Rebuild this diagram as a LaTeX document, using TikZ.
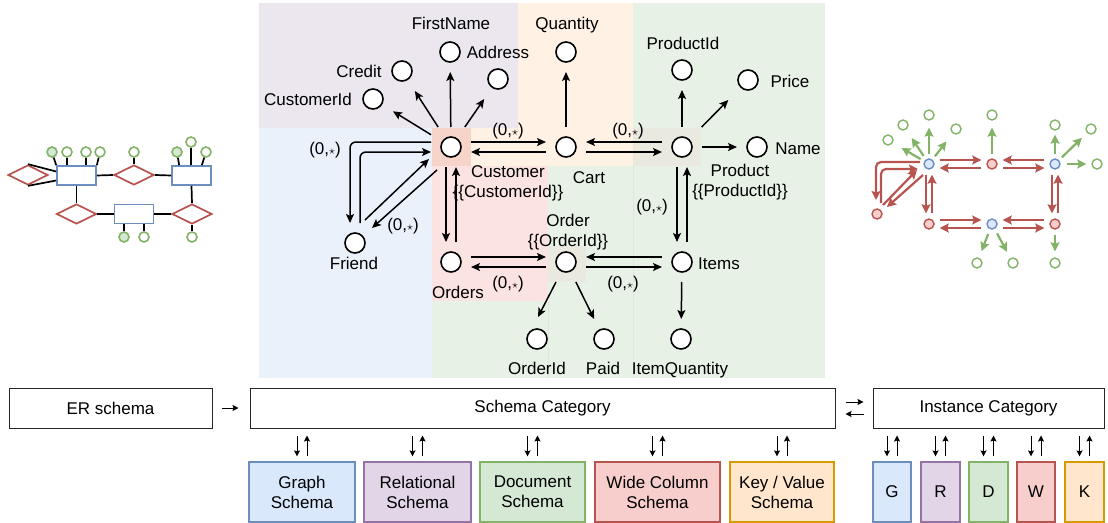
\documentclass[tikz,border=0pt]{standalone}
\usepackage{fontspec}
\setmainfont{Liberation Sans}
\usetikzlibrary{arrows.meta,calc,shapes.geometric}

% draw.io palette
\definecolor{bluefill}{HTML}{DAE8FC}
\definecolor{bluestroke}{HTML}{6C8EBF}
\definecolor{purplefill}{HTML}{E1D5E7}
\definecolor{purplestroke}{HTML}{9673A6}
\definecolor{greenfill}{HTML}{D5E8D4}
\definecolor{greenstroke}{HTML}{82B366}
\definecolor{redfill}{HTML}{F8CECC}
\definecolor{redstroke}{HTML}{B85450}
\definecolor{orangefill}{HTML}{FFE6CC}
\definecolor{orangestroke}{HTML}{D79B00}
% pale model areas behind the schema category
\definecolor{bgblue}{HTML}{EBF1FB}
\definecolor{bgpurple}{HTML}{ECE6EF}
\definecolor{bgorange}{HTML}{FFF1E3}
\definecolor{bggreen}{HTML}{E7F1E6}
\definecolor{bgred}{HTML}{FBE3E2}
\definecolor{bgcust}{HTML}{F6D4CA}
\definecolor{bgshared}{HTML}{EAE9DF}
\definecolor{bgedge}{HTML}{DCE8DA}

\newcommand{\card}{(0,$\scriptstyle\star$)}

\begin{document}
\begin{tikzpicture}[x=1pt,y=-1pt,
  font=\fontsize{17}{20}\selectfont,
  obj/.style={rectangle,minimum size=40pt,inner sep=0pt,outer sep=0pt},
  ring/.style={draw=black,fill=white,line width=1.6pt},
  lbl/.style={inner sep=0pt,outer sep=0pt,text height=12.2pt,text depth=0pt},
  lbltwo/.style={inner sep=0pt,outer sep=0pt,align=center,anchor=north},
  tipb/.style={-{Stealth[length=9pt,width=8pt,inset=2pt]}},
  ed/.style={draw=black,line width=1.5pt,tipb},
  % ER sketch
  erent/.style={rectangle,draw=bluestroke,fill=white,line width=1.7pt,minimum width=39pt,minimum height=19pt,inner sep=0pt},
  errel/.style={diamond,aspect=2,draw=redstroke,fill=white,line width=1.7pt,minimum width=40pt,minimum height=20pt,inner sep=0pt},
  erattr/.style={circle,draw=greenstroke,fill=white,line width=1.6pt,minimum size=10pt,inner sep=0pt},
  erkey/.style={erattr,fill=greenfill},
  erln/.style={draw=black,line width=1.7pt},
  % instance sketch
  inode/.style={circle,line width=1.4pt,minimum size=10pt,inner sep=0pt},
  iblue/.style={inode,draw=bluestroke,fill=bluefill},
  ired/.style={inode,draw=redstroke,fill=redfill},
  iattr/.style={inode,draw=greenstroke,fill=white},
  garr/.style={draw=greenstroke,line width=2.2pt,-{Stealth[length=9pt,width=9pt,inset=1.5pt]}},
  rarr/.style={draw=redstroke,line width=2.2pt,-{Stealth[length=9pt,width=9pt,inset=1.5pt]},shorten <=5pt,shorten >=5pt},
  % pipeline boxes
  topbox/.style={rectangle,draw=black!85,fill=white,line width=1pt,minimum height=40pt,inner sep=0pt},
  mbox/.style={rectangle,line width=1.2pt,minimum height=60pt,inner sep=0pt,align=center},
  sarr/.style={draw=black,line width=1pt,-{Stealth[length=6pt,width=6pt,inset=1pt]}}
]
\useasboundingbox (0,0) rectangle (1108,522);
\clip (0,0) rectangle (1108,522);

% ---------- model areas ----------
\fill[bgpurple] (259,3) rectangle (518,128);
\fill[bgorange] (518,3) rectangle (633,128);
\fill[bgorange] (471,128) rectangle (633,166);
\fill[bgcust] (432,128) rectangle (471,166);
\fill[bgblue] (259,128) rectangle (432,378);
\fill[bgred] (432,166) rectangle (548,301);
\fill[bggreen] (432,301) rectangle (548,378);
\fill[bggreen] (548,166) rectangle (633,378);
\fill[bggreen] (633,3) rectangle (825,378);
\fill[bgshared] (633,128) rectangle (701,166);
\fill[bgshared] (548,246) rectangle (586,282);
\draw[bgedge,line width=0.6pt] (633,166) -- (633,378);
\draw[bgedge,line width=0.6pt] (548,301) -- (548,378);

% ---------- schema category objects ----------
\node[obj] (cust) at (451,147) {};
\node[obj] (cart) at (566,147) {};
\node[obj] (prod) at (682,147) {};
\node[obj] (ords) at (451,262) {};
\node[obj] (ord) at (566,262) {};
\node[obj] (items) at (682,262) {};
\node[obj] (friend) at (355,243) {};
\node[obj] (custid) at (373,99) {};
\node[obj] (credit) at (402,71) {};
\node[obj] (fname) at (450,52) {};
\node[obj] (addr) at (498,79) {};
\node[obj] (qty) at (566,52) {};
\node[obj] (prodid) at (682,70) {};
\node[obj] (price) at (748,80) {};
\node[obj] (name) at (757,147) {};
\node[obj] (orderid) at (537,339) {};
\node[obj] (paid) at (604,339) {};
\node[obj] (itemq) at (681,339) {};
\foreach \n in {cust,cart,prod,ords,ord,items,friend,custid,credit,fname,addr,qty,prodid,price,name,orderid,paid,itemq}
  \draw[ring] (\n) circle[radius=10pt];

% labels
\node[lbl] (t-fname) at (451,23) {FirstName};
\node[lbl] (t-addr) at (498,52) {Address};
\node[lbl] (t-credit) at (359,71) {Credit};
\node[lbl] (t-custid) at (308,99) {CustomerId};
\node[lbl] (t-qty) at (567,23) {Quantity};
\node[lbl] (t-prodid) at (683,43) {ProductId};
\node[lbl] (t-price) at (790,81) {Price};
\node[lbl] (t-name) at (798,148) {Name};
\node[lbltwo] (t-cust) at (508,166) {Customer\\\{\{CustomerId\}\}};
\node[lbl] (t-cart) at (589,177) {Cart};
\node[lbltwo] (t-prod) at (740,164) {Product\\\{\{ProductId\}\}};
\node[lbltwo] (t-ord) at (568,214) {Order\\\{\{OrderId\}\}};
\node[lbl] (t-items) at (719,263) {Items};
\node[lbl] (t-ords) at (458,292) {Orders};
\node[lbl] (t-friend) at (354,263) {Friend};
\node[lbl] (t-orderid) at (537,368) {OrderId};
\node[lbl] (t-paid) at (603,368) {Paid};
\node[lbl] (t-itemq) at (680,368) {ItemQuantity};
\node[lbl] (c1) at (508,129) {\card};
\node[lbl] (c2) at (628,129) {\card};
\node[lbl] (c3) at (325,148) {\card};
\node[lbl] (c4) at (403,224) {\card};
\node[lbl] (c5) at (508,282) {\card};
\node[lbl] (c6) at (623,282) {\card};
\node[lbl] (c7) at (652,205) {\card};

% attribute morphisms
\draw[ed] (cust) -- (custid);
\draw[ed] (cust) -- (credit);
\draw[ed] (cust) -- (fname);
\draw[ed] (cust) -- (addr);
\draw[ed] (cart) -- (qty);
\draw[ed] (prod) -- (prodid);
\draw[ed] (prod) -- (price);
\draw[ed] (prod) -- (name);
\draw[ed] ($(ord)+(-10,20)$) -- ($(orderid)+(1,-22)$);
\draw[ed] (ord) -- (paid);
\draw[ed] (items) -- (itemq);

% relationship morphisms and their duals
\draw[ed] ([yshift=5pt]cust.east) -- ([yshift=5pt]cart.west);
\draw[ed] ([yshift=-5pt]cart.west) -- ([yshift=-5pt]cust.east);
\draw[ed] ([yshift=5pt]prod.west) -- ([yshift=5pt]cart.east);
\draw[ed] ([yshift=-5pt]cart.east) -- ([yshift=-5pt]prod.west);
\draw[ed] ([xshift=-5pt]cust.south) -- ([xshift=-5pt]ords.north);
\draw[ed] ([xshift=5pt]ords.north) -- ([xshift=5pt]cust.south);
\draw[ed] ([xshift=-5pt]prod.south) -- ([xshift=-5pt]items.north);
\draw[ed] ([xshift=5pt]items.north) -- ([xshift=5pt]prod.south);
\draw[ed] ([yshift=5pt]ords.east) -- ([yshift=5pt]ord.west);
\draw[ed] ([yshift=-5pt]ord.west) -- ([yshift=-5pt]ords.east);
\draw[ed] ([yshift=5pt]items.west) -- ([yshift=5pt]ord.east);
\draw[ed] ([yshift=-5pt]ord.east) -- ([yshift=-5pt]items.west);
\draw[ed,rounded corners=6pt] ([yshift=5pt]cust.west) -| ([xshift=-5pt]friend.north);
\draw[ed,rounded corners=6pt] ([xshift=5pt]friend.north) |- ([yshift=-5pt]cust.west);
\draw[ed] ($(friend)+(10,-23)$) -- ($(cust)+(-22,12)$);
\draw[ed] ($(cust)+(-14,23)$) -- ($(friend)+(17,-15)$);

% ---------- ER schema sketch ----------
\node[errel] (erd1) at (28,175) {};
\node[erent] (ere1) at (76.5,175.5) {};
\node[errel] (erd2) at (134,175) {};
\node[erent] (ere2) at (191.5,175.5) {};
\node[errel] (erd3) at (76.5,214) {};
\node[erent] (ere3) at (134,214) {};
\node[errel] (erd4) at (192,214) {};
\node[erkey] (era1) at (52,152) {};
\node[erattr] (era2) at (67,152) {};
\node[erattr] (era3) at (86,152) {};
\node[erattr] (era4) at (100,152) {};
\node[erattr] (era5) at (134,152) {};
\node[erkey] (era6) at (177,152) {};
\node[erattr] (era7) at (191,142) {};
\node[erattr] (era8) at (206,152) {};
\node[erkey] (era9) at (124,237) {};
\node[erattr] (era10) at (144,237) {};
\node[erattr] (era11) at (192,237) {};
\draw[erln] (erd1.north) -- ($(ere1.west)+(0,-4)$);
\draw[erln] (erd1.south) -- ($(ere1.west)+(0,5)$);
\draw[erln] (ere1.east) -- (erd2.west);
\draw[erln] (erd2.east) -- (ere2.west);
\draw[erln] (ere1.south) -- (erd3.north);
\draw[erln] (erd3.east) -- (ere3.west);
\draw[erln] (ere3.east) -- (erd4.west);
\draw[erln] (ere2.south) -- (erd4.north);
\draw[erln] (era1) -- (ere1.north west);
\draw[erln] (era2) -- (era2 |- ere1.north);
\draw[erln] (era3) -- (era3 |- ere1.north);
\draw[erln] (era4) -- (ere1.north east);
\draw[erln] (era5) -- (erd2.north);
\draw[erln] (era6) -- ($(ere2.north west)+(8,0)$);
\draw[erln] (era7) -- (era7 |- ere2.north);
\draw[erln] (era8) -- ($(ere2.north east)+(-10,0)$);
\draw[erln] (era9) -- (era9 |- ere3.south);
\draw[erln] (era10) -- (era10 |- ere3.south);
\draw[erln] (era11) -- (erd4.south);

% ---------- instance category sketch ----------
\node[iblue] (iA) at (929,164) {};
\node[ired] (iB) at (992,164) {};
\node[iblue] (iC) at (1055,164) {};
\node[ired] (iD) at (877,214) {};
\node[ired] (iE) at (929,224) {};
\node[iblue] (iF) at (992,224) {};
\node[ired] (iG) at (1055,224) {};
\node[iattr] (iA1) at (888,140) {};
\node[iattr] (iA2) at (903,125) {};
\node[iattr] (iA3) at (929,115) {};
\node[iattr] (iA4) at (956,129) {};
\node[iattr] (iB1) at (992,115) {};
\node[iattr] (iC1) at (1055,125) {};
\node[iattr] (iC2) at (1091,129) {};
\node[iattr] (iC3) at (1097,164) {};
\node[iattr] (iF1) at (977,263) {};
\node[iattr] (iF2) at (1013,263) {};
\node[iattr] (iG1) at (1055,263) {};

\draw[garr,shorten <=4pt,shorten >=10pt] (iA) -- (iA1);
\draw[garr,shorten <=4pt,shorten >=10pt] (iA) -- (iA2);
\draw[garr,shorten <=4pt,shorten >=7pt] (iA) -- (iA3);
\draw[garr,shorten <=4pt,shorten >=10pt] (iA) -- (iA4);
\draw[garr,shorten <=4pt,shorten >=7pt] (iB) -- (iB1);
\draw[garr,shorten <=4pt,shorten >=4pt] (iC) -- (iC1);
\draw[garr,shorten <=4pt,shorten >=7pt] (iC) -- (iC2);
\draw[garr,shorten <=6pt,shorten >=5pt] (iC) -- (iC3);
\draw[garr,shorten <=5pt,shorten >=7pt] (iF) -- (iF1);
\draw[garr,shorten <=5pt,shorten >=7pt] (iF) -- (iF2);
\draw[garr,shorten <=5pt,shorten >=6pt] (iG) -- (iG1);

\draw[rarr] ([yshift=4pt]iA.east) -- ([yshift=4pt]iB.west);
\draw[rarr] ([yshift=-4pt]iB.west) -- ([yshift=-4pt]iA.east);
\draw[rarr] ([yshift=4pt]iC.west) -- ([yshift=4pt]iB.east);
\draw[rarr] ([yshift=-4pt]iB.east) -- ([yshift=-4pt]iC.west);
\draw[rarr] ([yshift=4pt]iE.east) -- ([yshift=4pt]iF.west);
\draw[rarr] ([yshift=-4pt]iF.west) -- ([yshift=-4pt]iE.east);
\draw[rarr] ([yshift=4pt]iG.west) -- ([yshift=4pt]iF.east);
\draw[rarr] ([yshift=-4pt]iF.east) -- ([yshift=-4pt]iG.west);
\draw[rarr] ([xshift=-3pt]iA.south) -- ([xshift=-3pt]iE.north);
\draw[rarr] ([xshift=3pt]iE.north) -- ([xshift=3pt]iA.south);
\draw[rarr] ([xshift=-3pt]iC.south) -- ([xshift=-3pt]iG.north);
\draw[rarr] ([xshift=3pt]iG.north) -- ([xshift=3pt]iC.south);
\draw[rarr,shorten <=0pt,shorten >=0pt,rounded corners=5pt] ($(iA)+(-9,-2)$) -| ($(iD)+(-1,-14)$);
\draw[rarr,shorten <=0pt,shorten >=0pt,rounded corners=5pt] ($(iD)+(4,-11)$) |- ($(iA)+(-11,5)$);
\draw[rarr,shorten <=0pt,shorten >=0pt] ($(iD)+(6,-9)$) -- ($(iA)+(-12,6)$);
\draw[rarr,shorten <=0pt,shorten >=0pt] ($(iA)+(-6,11)$) -- ($(iD)+(10,-7)$);

% ---------- pipeline ----------
\node[topbox,minimum width=203pt] (er) at (110.5,408) {ER schema};
\node[topbox,minimum width=585pt] (sc) at (542.5,408) {Schema Category};
\node[topbox,minimum width=231pt] (ic) at (988.5,408) {Instance Category};
\draw[sarr,shorten <=9pt,shorten >=11pt] (er.east) -- (sc.west);
\draw[sarr,shorten <=10pt,shorten >=9pt] ([yshift=6pt]sc.east) -- ([yshift=6pt]ic.west);
\draw[sarr,shorten <=9pt,shorten >=10pt] ([yshift=-6pt]ic.west) -- ([yshift=-6pt]sc.east);

\node[mbox,draw=bluestroke,fill=bluefill,minimum width=106pt] (gs) at (302,492) {Graph\\Schema};
\node[mbox,draw=purplestroke,fill=purplefill,minimum width=107pt] (rs) at (417.5,492) {Relational\\Schema};
\node[mbox,draw=greenstroke,fill=greenfill,minimum width=105pt] (ds) at (532.5,492) {Document\\Schema};
\node[mbox,draw=redstroke,fill=redfill,minimum width=125pt] (ws) at (657.5,492) {Wide Column\\Schema};
\node[mbox,draw=orangestroke,fill=orangefill,minimum width=104pt] (ks) at (782,492) {Key / Value\\Schema};
\node[mbox,draw=bluestroke,fill=bluefill,minimum width=38pt] (gi) at (892,492) {G};
\node[mbox,draw=purplestroke,fill=purplefill,minimum width=39pt] (ri) at (940.5,492) {R};
\node[mbox,draw=greenstroke,fill=greenfill,minimum width=39pt] (di) at (988.5,492) {D};
\node[mbox,draw=redstroke,fill=redfill,minimum width=38pt] (wi) at (1036,492) {W};
\node[mbox,draw=orangestroke,fill=orangefill,minimum width=39pt] (ki) at (1084.5,492) {K};

\foreach \b in {gs,rs,ds,ws,ks} {
  \draw[sarr,shorten <=7pt,shorten >=5pt] ([xshift=-5pt]sc.south -| \b.north) -- ([xshift=-5pt]\b.north);
  \draw[sarr,shorten <=5pt,shorten >=7pt] ([xshift=5pt]\b.north) -- ([xshift=5pt]sc.south -| \b.north);
}
\foreach \b in {gi,ri,di,wi,ki} {
  \draw[sarr,shorten <=7pt,shorten >=5pt] ([xshift=-5pt]ic.south -| \b.north) -- ([xshift=-5pt]\b.north);
  \draw[sarr,shorten <=5pt,shorten >=7pt] ([xshift=5pt]\b.north) -- ([xshift=5pt]ic.south -| \b.north);
}
\end{tikzpicture}
\end{document}
